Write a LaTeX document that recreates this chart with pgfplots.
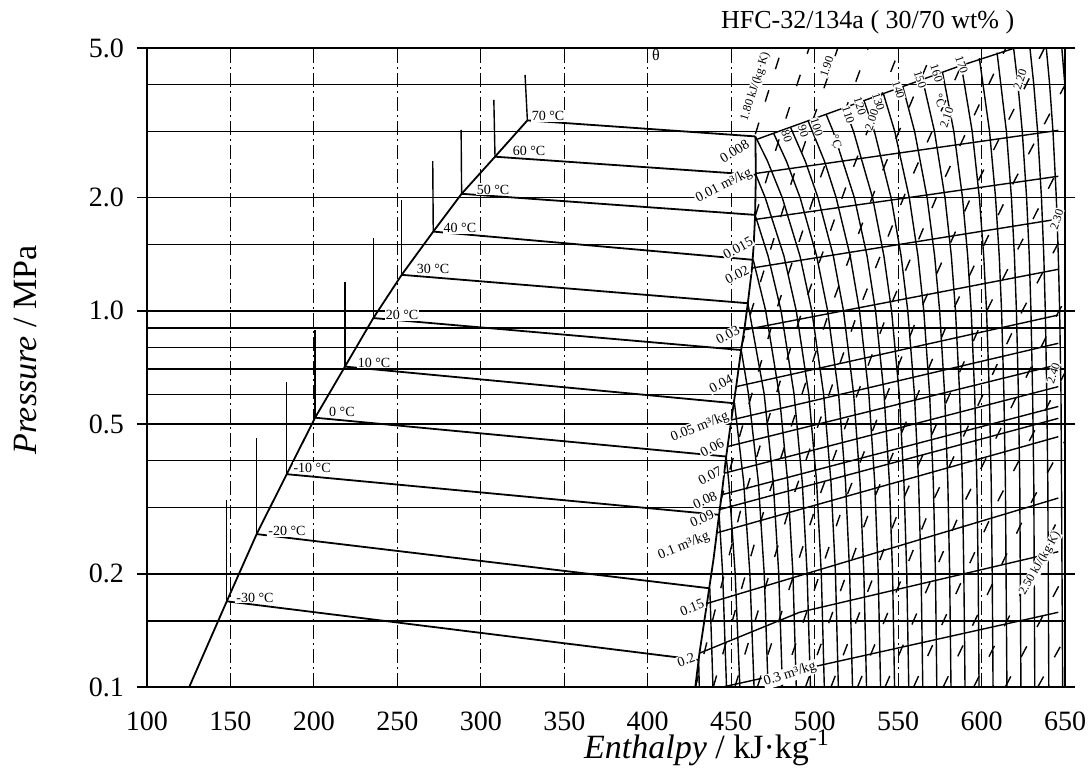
\documentclass[border=0pt]{standalone}
\usepackage{fontspec}
\setmainfont{Liberation Serif}
\usepackage{pgfplots}
\pgfplotsset{compat=1.18}
\tikzset{
  gh/.style={black, line width=0.75pt},
  gv/.style={black, line width=0.45pt, dash pattern=on 7pt off 2pt on 1pt off 2pt},
  sat/.style={black, line width=0.9pt},
  iso/.style={black, line width=0.7pt},
  isen/.style={black, line width=0.7pt, dash pattern=on 6pt off 11pt},
  lbl/.style={font=\fontsize{7}{8}\selectfont, inner sep=0.5pt, fill=white},
  tl/.style={font=\fontsize{6}{7}\selectfont, inner sep=0.3pt, fill=white},
}
\begin{document}
\begin{tikzpicture}
\useasboundingbox (-73.5pt,-41pt) rectangle (472pt,343.5pt);
\begin{axis}[
  at={(0,0)}, anchor=south west,
  scale only axis, width=459pt, height=319.5pt,
  xmin=100, xmax=650, ymin=0.1, ymax=5, ymode=log,
  clip mode=individual,
  xtick={100,150,...,650},
  xticklabels={100,150,200,250,300,350,400,450,500,550,600,650},
  ytick={0.1,0.2,0.5,1,2,5},
  yticklabels={0.1,0.2,0.5,1.0,2.0,5.0},
  yminorticks=false,
  /pgf/number format/assume math mode=true,
  tick align=outside, major tick length=5pt,
  xtick style={draw=none},
  ytick style={black, line width=0.8pt},
  tick label style={font=\fontsize{14}{16}\selectfont},
  xticklabel style={yshift=-4pt},
  yticklabel style={xshift=-3pt},
  axis line style={line width=1pt},
  xlabel={\textit{Enthalpy} / kJ·kg\textsuperscript{-1}},
  ylabel={\textit{Pressure} / MPa},
  label style={font=\fontsize{17}{19}\selectfont},
  xlabel style={at={(axis description cs:0.61,-0.0955)}, anchor=center},
  ylabel style={at={(axis description cs:-0.132,0.527)}, anchor=center},
  no markers,
]
% horizontal grid
\addplot[gh] coordinates {(100,0.15) (650,0.15)};
\addplot[gh] coordinates {(100,0.2) (650,0.2)};
\addplot[gh] coordinates {(100,0.3) (650,0.3)};
\addplot[gh] coordinates {(100,0.4) (650,0.4)};
\addplot[gh] coordinates {(100,0.5) (650,0.5)};
\addplot[gh] coordinates {(100,0.6) (650,0.6)};
\addplot[gh] coordinates {(100,0.7) (650,0.7)};
\addplot[gh] coordinates {(100,0.8) (650,0.8)};
\addplot[gh] coordinates {(100,0.9) (650,0.9)};
\addplot[gh] coordinates {(100,1) (650,1)};
\addplot[gh] coordinates {(100,1.5) (650,1.5)};
\addplot[gh] coordinates {(100,2) (650,2)};
\addplot[gh] coordinates {(100,3) (650,3)};
\addplot[gh] coordinates {(100,4) (650,4)};
% vertical grid
\addplot[gv] coordinates {(150,0.1) (150,5)};
\addplot[gv] coordinates {(200,0.1) (200,5)};
\addplot[gv] coordinates {(250,0.1) (250,5)};
\addplot[gv] coordinates {(300,0.1) (300,5)};
\addplot[gv] coordinates {(350,0.1) (350,5)};
\addplot[gv] coordinates {(400,0.1) (400,5)};
\addplot[gv] coordinates {(450,0.1) (450,5)};
\addplot[gv] coordinates {(500,0.1) (500,5)};
\addplot[gv] coordinates {(550,0.1) (550,5)};
\addplot[gv] coordinates {(600,0.1) (600,5)};
% saturation lines
\addplot[sat] coordinates {(125.3,0.1) (147.8,0.169) (165.7,0.255) (183.7,0.368) (200.7,0.520) (218.6,0.711) (235.6,0.957) (252.6,1.247) (271.5,1.625) (288.5,2.048) (308.5,2.57) (327.9,3.21)};
\addplot[sat] coordinates {(428.5,0.1) (431,0.123) (435.5,0.167) (439.5,0.22) (442,0.27) (444.5,0.33) (447,0.41) (450,0.51) (453,0.63) (456,0.79) (458,0.9) (460,1.05) (462.5,1.3) (463.5,1.5) (464.3,1.78) (464.8,2.3) (464.5,2.9)};
% two-phase isotherms
\addplot[sat] coordinates {(147.8,0.169) (430.5,0.118)};
\addplot[sat] coordinates {(165.7,0.255) (437.2,0.183)};
\addplot[sat] coordinates {(183.7,0.368) (442.8,0.287)};
\addplot[sat] coordinates {(200.7,0.520) (447,0.41)};
\addplot[sat] coordinates {(218.6,0.711) (452,0.568)};
\addplot[sat] coordinates {(235.6,0.957) (456,0.787)};
\addplot[sat] coordinates {(252.6,1.247) (460,1.048)};
\addplot[sat] coordinates {(271.5,1.625) (463.2,1.367)};
\addplot[sat] coordinates {(288.5,2.048) (464.3,1.80)};
\addplot[sat] coordinates {(308.5,2.57) (464.8,2.30)};
\addplot[sat] coordinates {(327.9,3.21) (464.5,2.91)};
% liquid isotherms
\addplot[iso] coordinates {(147.8,0.169) (147.8,0.314)};
\addplot[iso] coordinates {(165.7,0.255) (165.7,0.458)};
\addplot[iso] coordinates {(183.7,0.368) (183.7,0.649)};
\addplot[iso] coordinates {(200.7,0.520) (200.7,0.890)};
\addplot[iso] coordinates {(218.6,0.711) (218.6,1.197)};
\addplot[iso] coordinates {(235.6,0.957) (235.6,1.56)};
\addplot[iso] coordinates {(252.6,1.247) (252.6,1.97)};
\addplot[iso] coordinates {(271.5,1.625) (271.2,2.50)};
\addplot[iso] coordinates {(288.5,2.048) (288.2,3.03)};
\addplot[iso] coordinates {(308.5,2.57) (307.8,3.64)};
\addplot[iso] coordinates {(327.9,3.21) (326.5,4.24)};
% vapour isotherms
\addplot[iso] coordinates {(430.5,0.118) (430.9,0.1)};
\addplot[iso] coordinates {(437.2,0.183) (439.1,0.1)};
\addplot[iso] coordinates {(442.8,0.287) (444.9,0.2) (447.2,0.1)};
\addplot[iso] coordinates {(447,0.41) (448.6,0.35) (452.4,0.2) (455.2,0.1)};
\addplot[iso] coordinates {(452,0.568) (457.5,0.35) (461.2,0.2) (463.7,0.1)};
\addplot[iso] coordinates {(456,0.787) (460.4,0.6) (466.3,0.35) (469.8,0.2) (472.1,0.1)};
\addplot[iso] coordinates {(460,1.048) (469.8,0.6) (475.2,0.35) (478.5,0.2) (480.7,0.1)};
\addplot[iso] coordinates {(463.2,1.367) (470.7,1.0) (478.8,0.6) (483.9,0.35) (487,0.2) (489,0.1)};
\addplot[iso] coordinates {(464.3,1.8) (472.1,1.4) (479.9,1.0) (487.7,0.6) (492.6,0.35) (495.5,0.2) (497.5,0.1)};
\addplot[iso] coordinates {(464.8,2.3) (470.4,2.0) (481.6,1.4) (489,1.0) (496.5,0.6) (501.2,0.35) (504,0.2) (505.8,0.1)};
\addplot[iso] coordinates {(464.5,2.91) (471.8,2.5) (480.6,2.0) (491.2,1.4) (498.3,1.0) (505.4,0.6) (509.8,0.35) (512.5,0.2) (514.2,0.1)};
\addplot[iso] coordinates {(475.5,2.96) (483.1,2.5) (491.3,2.0) (501.2,1.4) (507.8,1.0) (514.4,0.6) (518.5,0.35) (521,0.2) (522.7,0.1)};
\addplot[iso] coordinates {(485.5,3.08) (494.4,2.5) (502,2.0) (511.2,1.4) (517.3,1.0) (523.4,0.6) (527.2,0.35) (529.5,0.2) (531.1,0.1)};
\addplot[iso] coordinates {(496.1,3.2) (505.9,2.5) (512.9,2.0) (521.3,1.4) (526.9,1.0) (532.5,0.6) (536,0.35) (538.1,0.2) (539.5,0.1)};
\addplot[iso] coordinates {(506.9,3.33) (511.1,3.0) (523.8,2.0) (531.4,1.4) (536.5,1.0) (541.6,0.6) (544.8,0.35) (546.7,0.2) (547.9,0.1)};
\addplot[iso] coordinates {(518,3.47) (523.3,3.0) (534.7,2.0) (541.5,1.4) (546.1,1.0) (550.7,0.6) (553.5,0.35) (555.2,0.2) (556.4,0.1)};
\addplot[iso] coordinates {(529.6,3.62) (535.8,3.0) (545.8,2.0) (551.8,1.4) (555.8,1.0) (559.8,0.6) (562.3,0.35) (563.8,0.2) (564.8,0.1)};
\addplot[iso] coordinates {(541.2,3.78) (548,3.0) (556.7,2.0) (561.9,1.4) (565.4,1.0) (568.9,0.6) (571.1,0.35) (572.4,0.2) (573.2,0.1)};
\addplot[iso] coordinates {(552.8,3.95) (559.9,3.0) (567.4,2.0) (571.9,1.4) (574.9,1.0) (577.9,0.6) (579.8,0.35) (580.9,0.2) (581.7,0.1)};
\addplot[iso] coordinates {(564.7,4.12) (571.8,3.0) (578.1,2.0) (581.9,1.4) (584.4,1.0) (586.9,0.6) (588.5,0.35) (589.4,0.2) (590.1,0.1)};
\addplot[iso] coordinates {(576.6,4.31) (583.4,3.0) (588.6,2.0) (591.7,1.4) (593.8,1.0) (595.9,0.6) (597.2,0.35) (598,0.2) (598.5,0.1)};
\addplot[iso] coordinates {(587.9,4.49) (594.4,3.0) (598.7,2.0) (601.3,1.4) (603,1.0) (604.7,0.6) (605.8,0.35) (606.4,0.2) (606.9,0.1)};
\addplot[iso] coordinates {(598.7,4.7) (604.8,3.0) (608.4,2.0) (610.6,1.4) (612,1.0) (613.4,0.6) (614.3,0.35) (615.2,0.1)};
\addplot[iso] coordinates {(609.3,4.86) (614.9,3.0) (617.9,2.0) (619.7,1.4) (620.9,1.0) (622.1,0.6) (622.9,0.35) (623.6,0.1)};
\addplot[iso] coordinates {(619.2,5) (621.8,4) (624.4,3) (627,2) (628.6,1.4) (629.6,1) (630.6,0.6) (631.3,0.35) (631.9,0.1)};
\addplot[iso] coordinates {(629,5) (631.3,4) (633.6,3) (635.9,2) (637.3,1.4) (638.2,1) (639.1,0.6) (639.7,0.35) (640.3,0.1)};
\addplot[iso] coordinates {(638.8,5) (640.8,4) (642.8,3) (644.8,2) (646,1.4) (646.8,1) (647.6,0.6) (648.6,0.1)};
\addplot[iso] coordinates {(648.1,5) (649.9,4) (651.7,3)};
% isochores
\addplot[iso] coordinates {(465.5,2.86) (587,4.48) (620,5)};
\addplot[iso] coordinates {(464.8,2.32) (646,3.02)};
\addplot[iso] coordinates {(464.2,1.75) (646,2.28)};
\addplot[iso] coordinates {(462.5,1.30) (646,1.755)};
\addplot[iso] coordinates {(457.8,0.89) (646,1.29)};
\addplot[iso] coordinates {(453,0.629) (646,0.975)};
\addplot[iso] coordinates {(450.2,0.513) (646,0.82)};
\addplot[iso] coordinates {(448,0.436) (646,0.72)};
\addplot[iso] coordinates {(445.6,0.370) (646,0.629)};
\addplot[iso] coordinates {(443.8,0.324) (646,0.557)};
\addplot[iso] coordinates {(442.5,0.296) (646,0.518)};
\addplot[iso] coordinates {(441.5,0.257) (646,0.463)};
\addplot[iso] coordinates {(436,0.167) (646,0.318)};
\addplot[iso] coordinates {(431,0.123) (491,0.158) (646,0.229)};
\addplot[iso] coordinates {(445,0.1) (646,0.158)};
% isentropes
\addplot[isen] coordinates {(464.5,2.95) (470.4,3.6) (480.5,5)};
\addplot[isen] coordinates {(464.5,1.79) (471.2,2.24) (480.2,3) (496.7,5)};
\addplot[isen] coordinates {(456,0.8) (462.1,1) (486.7,2.24) (513.9,5)};
\addplot[isen] coordinates {(443.5,0.31) (476.9,1) (503.1,2.24) (532.1,5)};
\addplot[isen] coordinates {(428.6,0.1) (457.4,0.316) (492.5,1) (520.4,2.24) (551.2,5)};
\addplot[isen] coordinates {(439.3,0.1) (471.6,0.316) (508.9,1) (538.6,2.24) (571.4,5)};
\addplot[isen] coordinates {(452.2,0.1) (486.6,0.316) (526.2,1) (557.7,2.24) (592.5,5)};
\addplot[isen] coordinates {(465.7,0.1) (502.2,0.316) (544.2,1) (577.6,2.24) (614.6,5)};
\addplot[isen] coordinates {(479.8,0.1) (518.5,0.316) (563.1,1) (598.5,2.24) (637.7,5)};
\addplot[isen] coordinates {(494.5,0.1) (535.5,0.316) (582.7,1) (620.2,2.24) (661.7,5)};
\addplot[isen] coordinates {(509.8,0.1) (553.1,0.316) (603.1,1) (642.9,2.24) (686.8,5)};
\addplot[isen] coordinates {(525.7,0.1) (571.5,0.316) (624.4,1) (666.4,2.24)};
\addplot[isen] coordinates {(542.2,0.1) (590.6,0.316) (646.4,1) (690.8,2.24)};
\addplot[isen] coordinates {(559.3,0.1) (610.4,0.316) (669.3,1)};
\addplot[isen] coordinates {(577,0.1) (630.8,0.316) (692.9,1)};
\addplot[isen] coordinates {(595.3,0.1) (652,0.316)};
\addplot[isen] coordinates {(614.2,0.1) (673.8,0.316)};
\addplot[isen] coordinates {(633.7,0.1) (696.4,0.316)};
% title
\node[font=\fontsize{13}{15}\selectfont] at (rel axis cs:0.785,1.0407) {HFC-32/134a ( 30/70 wt\% )};
% temperature labels, two-phase
\node[lbl] at (axis cs:340.3,3.30) {70 °C};
\node[lbl] at (axis cs:328.9,2.66) {60 °C};
\node[lbl] at (axis cs:307.3,2.10) {50 °C};
\node[lbl] at (axis cs:287.5,1.66) {40 °C};
\node[lbl] at (axis cs:271.4,1.29) {30 °C};
\node[lbl] at (axis cs:252.8,0.976) {20 °C};
\node[lbl] at (axis cs:236,0.728) {10 °C};
\node[lbl] at (axis cs:216.8,0.539) {0 °C};
\node[lbl] at (axis cs:198.9,0.382) {-10 °C};
\node[lbl] at (axis cs:183.9,0.26) {-20 °C};
\node[lbl] at (axis cs:164.7,0.173) {-30 °C};
% specific volume labels
\node[lbl, rotate=32] at (axis cs:452,2.66) {0.008};
\node[lbl, rotate=27] at (axis cs:445.7,2.15) {0.01 m³/kg};
\node[lbl, rotate=29] at (axis cs:454.1,1.47) {0.015};
\node[lbl, rotate=27] at (axis cs:453.5,1.25) {0.02};
\node[lbl, rotate=28] at (axis cs:448,0.863) {0.03};
\node[lbl, rotate=28] at (axis cs:443.9,0.64) {0.04};
\node[lbl, rotate=22] at (axis cs:431.3,0.491) {0.05 m³/kg};
\node[lbl, rotate=28] at (axis cs:438.5,0.432) {0.06};
\node[lbl, rotate=28] at (axis cs:437.3,0.364) {0.07};
\node[lbl, rotate=24] at (axis cs:434.3,0.314) {0.08};
\node[lbl, rotate=24] at (axis cs:432.5,0.280) {0.09};
\node[lbl, rotate=22] at (axis cs:421.7,0.237) {0.1 m³/kg};
\node[lbl, rotate=22] at (axis cs:426.5,0.163) {0.15};
\node[lbl, rotate=20] at (axis cs:423,0.118) {0.2};
\node[lbl, rotate=18] at (axis cs:485.3,0.108) {0.3 m³/kg};
% vapour isotherm labels
\node[tl, rotate=-72] at (axis cs:483.3,2.91) {80};
\node[tl, rotate=-72] at (axis cs:493.3,3.00) {90};
\node[tl, rotate=-72] at (axis cs:501.3,3.08) {100};
\node[tl, rotate=-72] at (axis cs:513,2.82) {°C};
\node[tl, rotate=-72] at (axis cs:520.2,3.32) {110};
\node[tl, rotate=-72] at (axis cs:527.2,3.50) {120};
\node[tl, rotate=-72] at (axis cs:538.2,3.60) {130};
\node[tl, rotate=-72] at (axis cs:550.2,3.87) {140};
\node[tl, rotate=-72] at (axis cs:563.2,4.12) {150};
\node[tl, rotate=-72] at (axis cs:575,3.62) {°C};
\node[tl, rotate=-72] at (axis cs:573.1,4.29) {160};
\node[tl, rotate=-72] at (axis cs:588.1,4.51) {170};
% isentrope labels
\node[tl, rotate=72] at (axis cs:464.5,3.95) {1.80 kJ/(kg·K)};
\node[tl, rotate=72] at (axis cs:507.2,4.46) {1.90};
\node[tl, rotate=72] at (axis cs:534.2,3.22) {2.00};
\node[tl, rotate=72] at (axis cs:579.1,3.27) {2.10};
\node[tl, rotate=72] at (axis cs:623.1,4.12) {2.20};
\node[tl, rotate=72] at (axis cs:645.1,1.75) {2.30};
\node[tl, rotate=72] at (axis cs:643,0.683) {2.40};
\node[tl, rotate=60] at (axis cs:635,0.213) {2.50 kJ/(kg·K)};
\node[font=\fontsize{8}{9}\selectfont, inner sep=0pt] at (axis cs:405,4.8) {θ};
\end{axis}
\end{tikzpicture}
\end{document}
